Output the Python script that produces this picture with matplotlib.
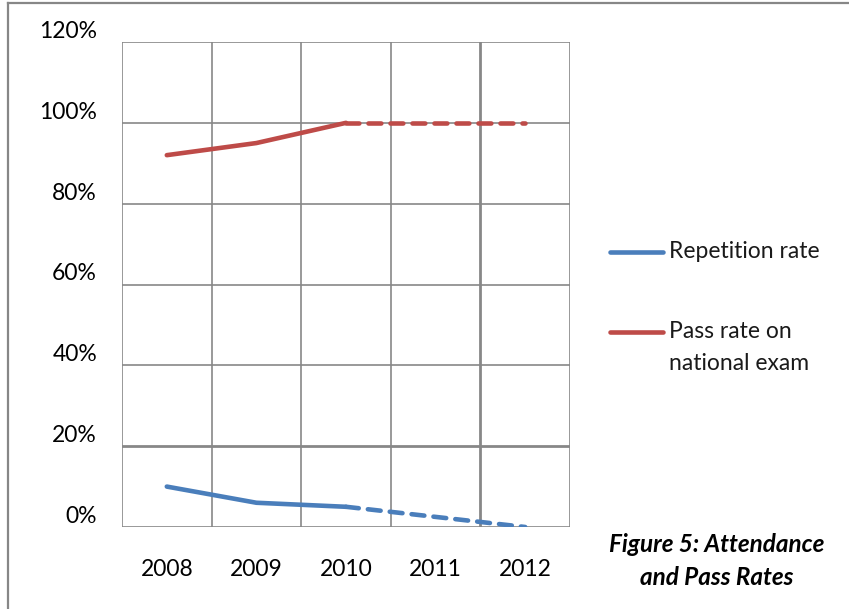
import matplotlib.pyplot as plt
import matplotlib.lines as mlines

years = ["2008", "2009", "2010", "2011", "2012"]
repetition = [0.10, 0.06, 0.05, 0.025, 0.00]
pass_rate = [0.92, 0.95, 1.00, 1.00, 1.00]
y_ticks = [0.0, 0.2, 0.4, 0.6, 0.8, 1.0, 1.2]
y_labels = ["0%", "20%", "40%", "60%", "80%", "100%", "120%"]

blue = "#4a7ebb"
red = "#be4b48"
grid_c = "#878787"

plt.rcParams["font.family"] = ["Lato", "DejaVu Sans"]

fig = plt.figure(figsize=(8.49, 6.09), dpi=100)
ax = fig.add_axes([122 / 849, 1 - 527 / 609, 448 / 849, 485 / 609])

x = list(range(len(years)))
lw = 3.3
# actual values solid up to 2010, projections dashed afterwards
ax.plot(x[:3], repetition[:3], color=blue, lw=lw, solid_capstyle="round", zorder=3)
ax.plot(x[2:], repetition[2:], color=blue, lw=lw, ls=(0, (2.8, 2.0)),
        dash_capstyle="round", zorder=3)
ax.plot(x[:3], pass_rate[:3], color=red, lw=lw, solid_capstyle="round", zorder=3)
ax.plot(x[2:], pass_rate[2:], color=red, lw=lw, ls=(0, (2.8, 2.0)),
        dash_capstyle="round", zorder=3)

ax.set_xlim(-0.5, len(years) - 0.5)
ax.set_ylim(0, 1.2)

for yv in y_ticks:
    ax.axhline(yv, color=grid_c, lw=2.0 if yv == 0.2 else 1.2, zorder=1)
for i in range(len(years) + 1):
    xv = i - 0.5
    ax.axvline(xv, color=grid_c, lw=2.0 if i == 4 else 1.2, zorder=1)

for s in ax.spines.values():
    s.set_visible(False)

fs = 16.5
ax.set_xticks(x)
ax.set_xticklabels(years, fontsize=fs)
ax.set_yticks(y_ticks)
ax.set_yticklabels(y_labels, fontsize=fs)
ax.tick_params(axis="x", length=0, pad=23)
ax.tick_params(axis="y", length=0, pad=18)
for lab in ax.get_yticklabels():
    lab.set_verticalalignment("bottom")

# legend
fig.add_artist(mlines.Line2D([610 / 849, 663 / 849], [1 - 252 / 609] * 2,
                             color=blue, lw=lw, solid_capstyle="round"))
fig.add_artist(mlines.Line2D([610 / 849, 663 / 849], [1 - 332 / 609] * 2,
                             color=red, lw=lw, solid_capstyle="round"))
fig.text(669 / 849, 1 - 252 / 609, "Repetition rate", fontsize=fs,
         va="center", ha="left", color="#1a1a1a")
fig.text(669 / 849, 1 - 332 / 609, "Pass rate on", fontsize=fs,
         va="center", ha="left", color="#1a1a1a")
fig.text(669 / 849, 1 - 364 / 609, "national exam", fontsize=fs,
         va="center", ha="left", color="#1a1a1a")

# caption
fig.text(717 / 849, 1 - 561 / 609, "Figure 5: Attendance\nand Pass Rates",
         fontsize=17.5, fontweight="bold", fontstyle="italic", ha="center",
         va="center", linespacing=1.55)

# outer border (left and top)
fig.add_artist(mlines.Line2D([8 / 849, 8 / 849], [0, 1 - 3 / 609], color=grid_c, lw=1.6))
fig.add_artist(mlines.Line2D([8 / 849, 1], [1 - 3 / 609] * 2, color=grid_c, lw=1.6))

fig.savefig("out.png", dpi=100)
